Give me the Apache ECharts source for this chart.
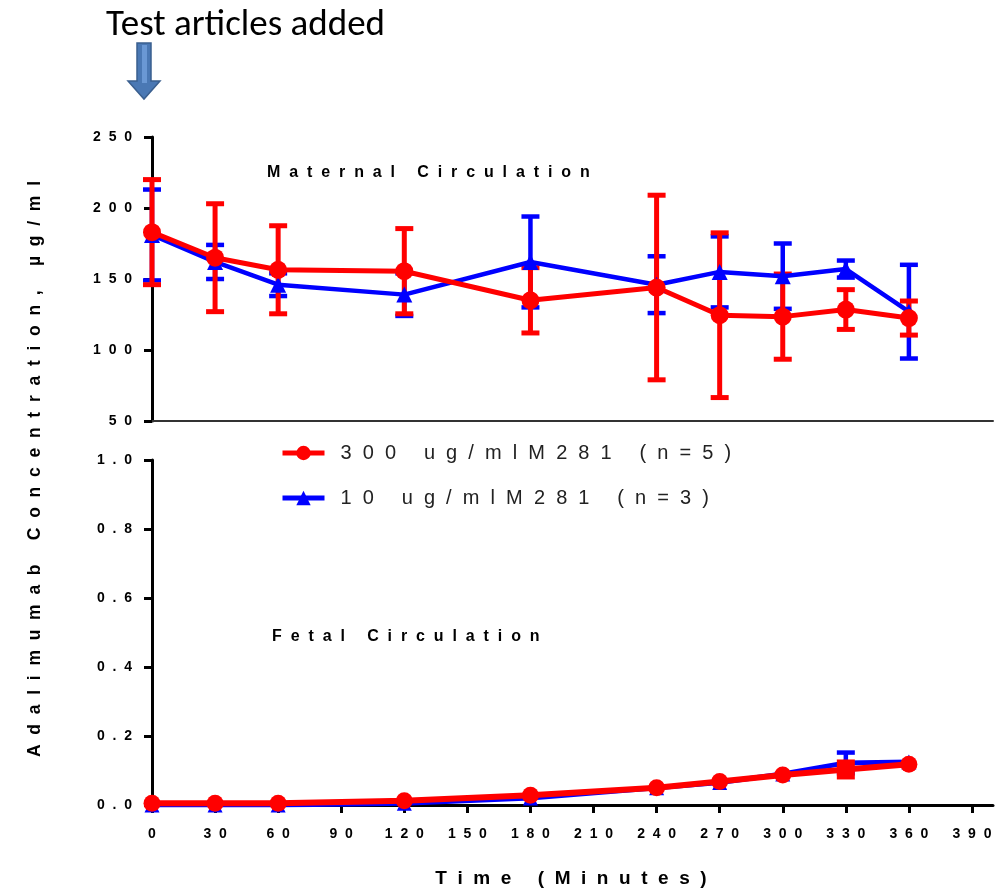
<!DOCTYPE html>
<html><head><meta charset="utf-8">
<script src="https://cdn.jsdelivr.net/npm/echarts@6/dist/echarts.min.js"></script>
<style>html,body{margin:0;padding:0;background:#fff}#c{width:1001px;height:889px}</style>
</head><body><div id="c"></div><script>
// ---- data ----
const xTicks = [0,30,60,90,120,150,180,210,240,270,300,330,360,390];
const times = [0,30,60,120,180,240,270,300,330,360];
const maternalRed    = [183,165,156.5,155.5,135,144,124.5,123.5,128.5,122.5];
const maternalRedSD  = [37,38,31,30,23,65,58,30,14,12];
const maternalBlue   = [181,162,146,139,162,146,155,152,157,127];
const maternalBlueSD = [32,12,8,15,32,20,25,23,6,33];
const fetalRed    = [0.005,0.005,0.005,0.012,0.028,0.05,0.068,0.087,0.103,0.118];
const fetalBlue   = [0,0,0,0.005,0.02,0.05,0.065,0.09,0.122,0.125];
const fetalBlueSD = [0,0,0,0,0,0,0,0,0.03,0];
const nameRed  = '300 ug/ml M281 (n=5)';
const nameBlue = '10 ug/ml M281 (n=3)';
const legendText = {};
legendText[nameRed]  = '300 ug/mlM281 (n=5)';
legendText[nameBlue] = '10 ug/mlM281 (n=3)';

const RED = '#ff0000', BLUE = '#0000ff';
const FF = "'Liberation Sans', Arial, sans-serif";
function sp(s, g){ return s.split('').join(g === undefined ? '  ' : g); }

function errSeries(means, sds, color, xi, yi, capW, lw){
  return {
    type:'custom', xAxisIndex:xi, yAxisIndex:yi, silent:true,
    data: times.map((t,i)=>[t, means[i], sds[i]]),
    encode:{x:0, y:1},
    renderItem(params, api){
      const x = api.value(0), m = api.value(1), s = api.value(2);
      if (!s) return null;
      const a = api.coord([x, m + s]), b = api.coord([x, m - s]);
      const st = {stroke:color, lineWidth:lw};
      const h = capW/2;
      return {type:'group', children:[
        {type:'line', shape:{x1:a[0], y1:a[1], x2:b[0], y2:b[1]}, style:st},
        {type:'line', shape:{x1:a[0]-h, y1:a[1], x2:a[0]+h, y2:a[1]}, style:st},
        {type:'line', shape:{x1:b[0]-h, y1:b[1], x2:b[0]+h, y2:b[1]}, style:st}
      ]};
    }
  };
}
function lineSeries(name, vals, color, symbol, size, xi, yi, lw, special){
  return {
    type:'line', name, xAxisIndex:xi, yAxisIndex:yi, silent:true,
    symbol, symbolSize:size,
    data: times.map((t,i)=> (special && special[i]) ? Object.assign({value:[t, vals[i]]}, special[i]) : [t, vals[i]]),
    lineStyle:{color, width:lw}, itemStyle:{color}, emphasis:{disabled:true}
  };
}

const yLabel = {fontFamily:FF, fontWeight:'bold', fontSize:14, color:'#000', margin:20};
const chart = echarts.init(document.getElementById('c'));
chart.setOption({
  animation:false,
  backgroundColor:'#fff',
  grid:[
    {left:152, top:137, width:841, height:284},
    {left:152, top:460, width:841, height:345}
  ],
  xAxis:[
    {type:'value', gridIndex:0, min:0, max:400,
     axisLine:{show:true, onZero:false, lineStyle:{color:'#333', width:2}},
     axisTick:{show:false}, axisLabel:{show:false}, splitLine:{show:false}},
    {type:'value', gridIndex:1, min:0, max:400,
     axisLine:{show:true, onZero:false, lineStyle:{color:'#000', width:3}},
     axisTick:{show:true, customValues:xTicks, length:8, lineStyle:{color:'#000', width:3}},
     axisLabel:{customValues:xTicks, fontFamily:FF, fontWeight:'bold', fontSize:14, color:'#000', margin:22,
       formatter:v=>sp(String(v))},
     splitLine:{show:false}}
  ],
  yAxis:[
    {type:'value', gridIndex:0, min:50, max:250, interval:50,
     axisLine:{show:true, onZero:false, lineStyle:{color:'#000', width:3}},
     axisTick:{show:true, length:8, lineStyle:{color:'#000', width:3}},
     axisLabel:Object.assign({formatter:v=>sp(String(v))}, yLabel),
     splitLine:{show:false}},
    {type:'value', gridIndex:1, min:0, max:1, interval:0.2,
     axisLine:{show:true, onZero:false, lineStyle:{color:'#000', width:3}},
     axisTick:{show:true, length:8, lineStyle:{color:'#000', width:3}},
     axisLabel:Object.assign({formatter:v=>sp(v.toFixed(1))}, yLabel),
     splitLine:{show:false}}
  ],
  legend:{
    orient:'vertical', left:280, top:443, padding:0, itemWidth:42, itemHeight:18, itemGap:25,
    data:[nameRed, nameBlue], selectedMode:false,
    lineStyle:{width:5},
    formatter:n=>sp(legendText[n]),
    textStyle:{fontFamily:FF, fontSize:20, color:'#222', padding:[0,0,0,11]}
  },
  series:[
    errSeries(maternalBlue, maternalBlueSD, BLUE, 0, 0, 18, 4.5),
    lineSeries(nameBlue, maternalBlue, BLUE, 'triangle', 16, 0, 0, 4.5),
    errSeries(maternalRed, maternalRedSD, RED, 0, 0, 18, 5),
    lineSeries(nameRed, maternalRed, RED, 'circle', 18, 0, 0, 5),
    errSeries(fetalBlue, fetalBlueSD, BLUE, 1, 1, 18, 4.5),
    lineSeries(nameBlue, fetalBlue, BLUE, 'triangle', 15, 1, 1, 5),
    lineSeries(nameRed, fetalRed, RED, 'circle', 17, 1, 1, 6,
      {8:{symbol:'rect', symbolSize:[18,20]}})
  ],
  graphic:[
    {type:'text', left:106, top:7, style:{text:'Test articles added', font:"37px Carlito, Lato, sans-serif", fill:'#000'}},
    {type:'polygon', shape:{points:[[137,43],[151,43],[151,81],[160,81],[144,99],[128,81],[137,81]]},
     style:{fill:'#4a78b4', stroke:'#3a5f8f', lineWidth:1.5}},
    {type:'rect', shape:{x:142, y:45, width:5, height:38}, style:{fill:'#6a98d4'}},
    {type:'text', x:267, y:173, style:{text:sp('Maternal Circulation'), font:"bold 16px "+FF, fill:'#000', verticalAlign:'middle'}},
    {type:'text', x:272, y:637, style:{text:sp('Fetal Circulation'), font:"bold 16px "+FF, fill:'#000', verticalAlign:'middle'}},
    {type:'text', x:571, y:879, style:{text:sp('Time (Minutes)'), font:"bold 19px "+FF, fill:'#000', align:'center', verticalAlign:'middle'}},
    {type:'text', x:35, y:469, rotation:Math.PI/2, style:{text:sp('Adalimumab Concentration, \u00b5g/ml'), font:"bold 17.5px "+FF, fill:'#000', align:'center', verticalAlign:'middle'}}
  ]
});
</script></body></html>
